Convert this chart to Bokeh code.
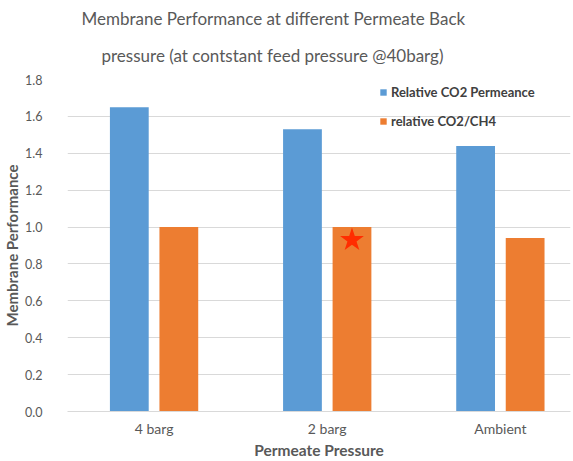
from bokeh.plotting import figure
from bokeh.models import (Range1d, FixedTicker, SingleIntervalTicker, Legend, LegendItem,
                          ColumnDataSource, NumeralTickFormatter, Title)
from bokeh.embed import file_html
from bokeh.resources import INLINE

# Membrane performance per permeate back pressure
categories = ["4 barg", "2 barg", "Ambient"]
co2_permeance = [1.65, 1.53, 1.44]
co2_ch4_selectivity = [1.00, 1.00, 0.94]
marked_category = "2 barg"
marked_value = 0.93

FONT = "Lato"
GREY = "#595959"
BLUE = "#5B9BD5"
ORANGE = "#ED7D31"

centers = [i + 0.5 for i in range(len(categories))]
offset = 0.143
bar_w = 0.224

src = ColumnDataSource(dict(
    xb=[c - offset for c in centers],
    xo=[c + offset for c in centers],
    perm=co2_permeance,
    sel=co2_ch4_selectivity,
))

p = figure(width=573, height=461, output_backend="svg", toolbar_location=None,
           x_range=Range1d(0, 2.905), y_range=Range1d(0, 1.8),
           min_border_left=66, min_border_right=3, min_border_top=79, min_border_bottom=50)
p.outline_line_color = None
p.background_fill_color = "white"

r_perm = p.vbar(x="xb", top="perm", width=bar_w, source=src, color=BLUE, line_color=None)
r_sel = p.vbar(x="xo", top="sel", width=bar_w, source=src, color=ORANGE, line_color=None)

mi = categories.index(marked_category)
p.scatter(x=[centers[mi] + offset], y=[marked_value], marker="star", size=25,
          color="#FF2D00", line_color=None)

# two-line title, each line placed on its own
p.title.visible = False
title_style = dict(align="left", text_font=FONT, text_font_size="17px",
                   text_font_style="normal", text_color=GREY, text_line_height=0.7)
p.add_layout(Title(text="pressure (at contstant feed pressure @40barg)", standoff=28,
                   offset=34, **title_style), "above")
p.add_layout(Title(text="Membrane Performance at different Permeate Back", standoff=0,
                   offset=14, **title_style), "above")

# axes
xa = p.xaxis[0]
xa.ticker = FixedTicker(ticks=centers)
xa.major_label_overrides = {c: lab for c, lab in zip(centers, categories)}
xa.axis_line_color = "#D9D9D9"
xa.major_tick_line_color = None
xa.minor_tick_line_color = None
xa.major_label_standoff = 2
xa.major_label_text_font = FONT
xa.major_label_text_font_size = "14px"
xa.major_label_text_color = GREY
xa.axis_label = "Permeate Pressure"
xa.axis_label_text_font = FONT
xa.axis_label_text_font_size = "15.5px"
xa.axis_label_text_font_style = "bold"
xa.axis_label_text_color = GREY
xa.axis_label_standoff = 1

ya = p.yaxis[0]
ya.ticker = SingleIntervalTicker(interval=0.2)
ya.formatter = NumeralTickFormatter(format="0.0")
ya.axis_line_color = None
ya.major_tick_line_color = None
ya.minor_tick_line_color = None
ya.major_label_standoff = 19
ya.major_label_text_font = FONT
ya.major_label_text_font_size = "12.5px"
ya.major_label_text_color = GREY
ya.axis_label = "Membrane Performance"
ya.axis_label_text_font = FONT
ya.axis_label_text_font_size = "15px"
ya.axis_label_text_font_style = "bold"
ya.axis_label_text_color = GREY
ya.axis_label_standoff = 1

p.xgrid.grid_line_color = None
p.ygrid.grid_line_color = "#D9D9D9"
p.ygrid.grid_line_width = 1

legend = Legend(items=[
    LegendItem(label="Relative CO2 Permeance", renderers=[r_perm]),
    LegendItem(label="relative CO2/CH4", renderers=[r_sel]),
], location=(312, 282))
legend.background_fill_alpha = 0
legend.border_line_alpha = 0
legend.padding = 0
legend.margin = 0
legend.glyph_width = 8
legend.glyph_height = 8
legend.label_height = 14
legend.label_standoff = 4
legend.spacing = 13
legend.label_text_font = FONT
legend.label_text_font_size = "13px"
legend.label_text_font_style = "bold"
legend.label_text_color = "#404040"
p.add_layout(legend)

open("out.html", "w").write(file_html(p, INLINE))
